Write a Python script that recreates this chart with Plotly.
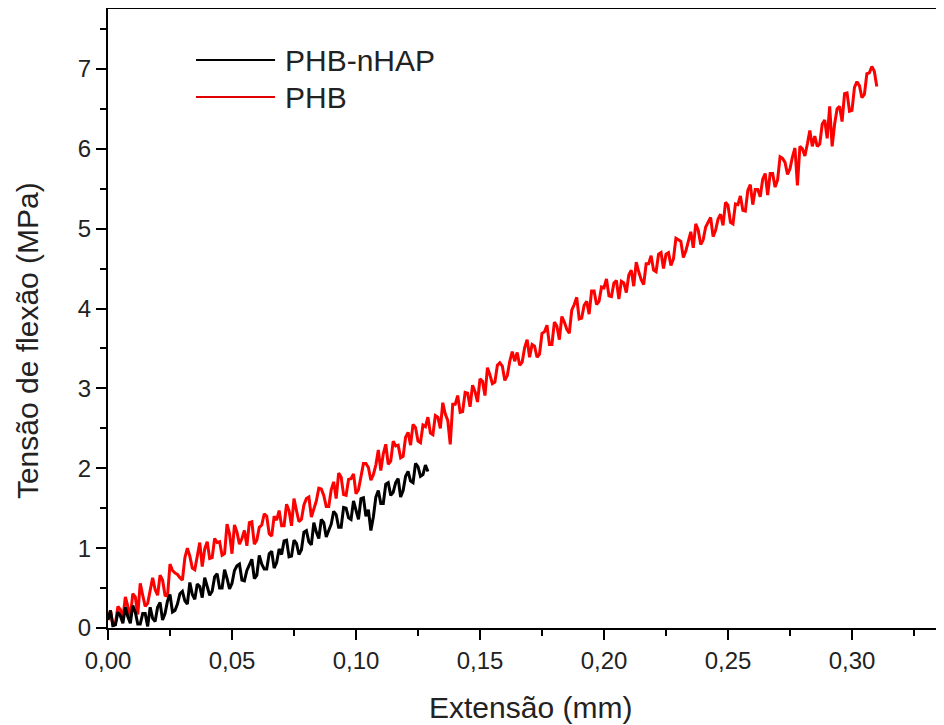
import plotly.graph_objects as go

# PHB (red) series: extension (mm)
phb_x = [0.000, 0.001, 0.002, 0.003, 0.004, 0.005, 0.006, 0.007, 0.008, 0.009,
         0.010, 0.011, 0.012, 0.013, 0.014, 0.015, 0.016, 0.017, 0.018, 0.019,
         0.020, 0.021, 0.022, 0.023, 0.024, 0.025, 0.026, 0.027, 0.028, 0.029,
         0.030, 0.031, 0.032, 0.033, 0.034, 0.035, 0.036, 0.037, 0.038, 0.039,
         0.040, 0.041, 0.042, 0.043, 0.044, 0.045, 0.046, 0.047, 0.048, 0.049,
         0.050, 0.051, 0.052, 0.053, 0.054, 0.055, 0.056, 0.057, 0.058, 0.059,
         0.060, 0.061, 0.062, 0.063, 0.064, 0.065, 0.066, 0.067, 0.068, 0.069,
         0.070, 0.071, 0.072, 0.073, 0.074, 0.075, 0.076, 0.077, 0.078, 0.079,
         0.080, 0.081, 0.082, 0.083, 0.084, 0.085, 0.086, 0.087, 0.088, 0.089,
         0.090, 0.091, 0.092, 0.093, 0.094, 0.095, 0.096, 0.097, 0.098, 0.099,
         0.100, 0.101, 0.102, 0.103, 0.104, 0.105, 0.106, 0.107, 0.108, 0.109,
         0.110, 0.111, 0.112, 0.113, 0.114, 0.115, 0.116, 0.117, 0.118, 0.119,
         0.120, 0.121, 0.122, 0.123, 0.124, 0.125, 0.126, 0.127, 0.128, 0.129,
         0.130, 0.131, 0.132, 0.133, 0.134, 0.135, 0.136, 0.137, 0.138, 0.139,
         0.140, 0.141, 0.142, 0.143, 0.144, 0.145, 0.146, 0.147, 0.148, 0.149,
         0.150, 0.151, 0.152, 0.153, 0.154, 0.155, 0.156, 0.157, 0.158, 0.159,
         0.160, 0.161, 0.162, 0.163, 0.164, 0.165, 0.166, 0.167, 0.168, 0.169,
         0.170, 0.171, 0.172, 0.173, 0.174, 0.175, 0.176, 0.177, 0.178, 0.179,
         0.180, 0.181, 0.182, 0.183, 0.184, 0.185, 0.186, 0.187, 0.188, 0.189,
         0.190, 0.191, 0.192, 0.193, 0.194, 0.195, 0.196, 0.197, 0.198, 0.199,
         0.200, 0.201, 0.202, 0.203, 0.204, 0.205, 0.206, 0.207, 0.208, 0.209,
         0.210, 0.211, 0.212, 0.213, 0.214, 0.215, 0.216, 0.217, 0.218, 0.219,
         0.220, 0.221, 0.222, 0.223, 0.224, 0.225, 0.226, 0.227, 0.228, 0.229,
         0.230, 0.231, 0.232, 0.233, 0.234, 0.235, 0.236, 0.237, 0.238, 0.239,
         0.240, 0.241, 0.242, 0.243, 0.244, 0.245, 0.246, 0.247, 0.248, 0.249,
         0.250, 0.251, 0.252, 0.253, 0.254, 0.255, 0.256, 0.257, 0.258, 0.259,
         0.260, 0.261, 0.262, 0.263, 0.264, 0.265, 0.266, 0.267, 0.268, 0.269,
         0.270, 0.271, 0.272, 0.273, 0.274, 0.275, 0.276, 0.277, 0.278, 0.279,
         0.280, 0.281, 0.282, 0.283, 0.284, 0.285, 0.286, 0.287, 0.288, 0.289,
         0.290, 0.291, 0.292, 0.293, 0.294, 0.295, 0.296, 0.297, 0.298, 0.299,
         0.300, 0.301, 0.302, 0.303, 0.304, 0.305, 0.306, 0.307, 0.308, 0.309,
         0.310]
# PHB (red) series: flexural stress (MPa)
phb_y = [0.11, 0.22, 0.02, 0.06, 0.27, 0.23, 0.12, 0.39, 0.27, 0.13,
         0.43, 0.39, 0.17, 0.56, 0.41, 0.27, 0.31, 0.49, 0.63, 0.48,
         0.41, 0.66, 0.60, 0.41, 0.40, 0.80, 0.72, 0.69, 0.67, 0.63,
         0.60, 0.88, 1.00, 0.90, 0.75, 0.73, 0.93, 1.07, 0.77, 0.99,
         1.08, 0.87, 0.88, 1.12, 1.07, 1.08, 0.91, 0.93, 1.30, 1.18,
         0.93, 1.29, 1.20, 1.05, 1.12, 1.22, 1.03, 1.32, 1.33, 1.05,
         1.10, 1.26, 1.29, 1.43, 1.40, 1.18, 1.15, 1.40, 1.35, 1.47,
         1.28, 1.28, 1.55, 1.47, 1.28, 1.62, 1.47, 1.33, 1.36, 1.54,
         1.62, 1.64, 1.39, 1.49, 1.59, 1.75, 1.74, 1.66, 1.52, 1.52,
         1.73, 1.83, 1.62, 1.94, 1.89, 1.67, 1.66, 1.86, 1.87, 1.93,
         1.68, 1.73, 1.91, 2.06, 2.06, 2.01, 1.85, 1.92, 2.04, 2.23,
         1.97, 2.18, 2.30, 2.05, 2.09, 2.34, 2.28, 2.29, 2.13, 2.15,
         2.39, 2.45, 2.29, 2.55, 2.51, 2.34, 2.32, 2.54, 2.52, 2.64,
         2.44, 2.42, 2.66, 2.64, 2.50, 2.82, 2.68, 2.60, 2.30, 2.80,
         2.80, 2.91, 2.70, 2.71, 2.95, 2.94, 2.77, 3.04, 2.96, 2.83,
         3.12, 3.09, 2.91, 3.26, 3.17, 3.06, 3.08, 3.29, 3.32, 3.28,
         3.10, 3.16, 3.34, 3.46, 3.34, 3.45, 3.29, 3.33, 3.51, 3.61,
         3.39, 3.55, 3.53, 3.39, 3.43, 3.69, 3.71, 3.79, 3.55, 3.55,
         3.83, 3.78, 3.61, 3.90, 3.83, 3.74, 3.69, 3.98, 4.05, 4.14,
         3.87, 3.88, 4.04, 4.09, 3.93, 4.22, 4.22, 4.05, 4.09, 4.27,
         4.26, 4.37, 4.16, 4.15, 4.32, 4.35, 4.12, 4.34, 4.32, 4.20,
         4.42, 4.48, 4.28, 4.58, 4.46, 4.36, 4.30, 4.56, 4.56, 4.66,
         4.48, 4.46, 4.68, 4.70, 4.50, 4.68, 4.70, 4.54, 4.62, 4.88,
         4.86, 4.84, 4.64, 4.72, 4.84, 4.96, 4.76, 5.06, 4.98, 4.80,
         4.86, 5.02, 5.08, 5.14, 4.90, 4.98, 5.12, 5.18, 5.04, 5.33,
         5.29, 5.08, 5.06, 5.31, 5.30, 5.41, 5.23, 5.22, 5.48, 5.55,
         5.30, 5.49, 5.49, 5.40, 5.62, 5.69, 5.42, 5.69, 5.69, 5.52,
         5.61, 5.90, 5.88, 5.83, 5.68, 5.75, 5.90, 6.01, 5.54, 6.03,
         6.00, 5.91, 6.06, 6.23, 6.03, 6.16, 6.03, 6.06, 6.31, 6.36,
         6.13, 6.53, 6.03, 6.31, 6.50, 6.53, 6.34, 6.69, 6.70, 6.47,
         6.48, 6.77, 6.84, 6.79, 6.64, 6.68, 6.94, 6.95, 7.03, 6.97,
         6.78]

# PHB-nHAP (black) series
nhap_x = [0.000, 0.001, 0.002, 0.003, 0.004, 0.005, 0.006, 0.007, 0.008, 0.009,
          0.010, 0.011, 0.012, 0.013, 0.014, 0.015, 0.016, 0.017, 0.018, 0.019,
          0.020, 0.021, 0.022, 0.023, 0.024, 0.025, 0.026, 0.027, 0.028, 0.029,
          0.030, 0.031, 0.032, 0.033, 0.034, 0.035, 0.036, 0.037, 0.038, 0.039,
          0.040, 0.041, 0.042, 0.043, 0.044, 0.045, 0.046, 0.047, 0.048, 0.049,
          0.050, 0.051, 0.052, 0.053, 0.054, 0.055, 0.056, 0.057, 0.058, 0.059,
          0.060, 0.061, 0.062, 0.063, 0.064, 0.065, 0.066, 0.067, 0.068, 0.069,
          0.070, 0.071, 0.072, 0.073, 0.074, 0.075, 0.076, 0.077, 0.078, 0.079,
          0.080, 0.081, 0.082, 0.083, 0.084, 0.085, 0.086, 0.087, 0.088, 0.089,
          0.090, 0.091, 0.092, 0.093, 0.094, 0.095, 0.096, 0.097, 0.098, 0.099,
          0.100, 0.101, 0.102, 0.103, 0.104, 0.105, 0.106, 0.107, 0.108, 0.109,
          0.110, 0.111, 0.112, 0.113, 0.114, 0.115, 0.116, 0.117, 0.118, 0.119,
          0.120, 0.121, 0.122, 0.123, 0.124, 0.125, 0.126, 0.127, 0.128, 0.129]
nhap_y = [0.10, 0.22, 0.03, 0.04, 0.20, 0.15, 0.06, 0.26, 0.14, 0.06,
          0.28, 0.20, 0.05, 0.05, 0.18, 0.18, 0.02, 0.26, 0.12, 0.08,
          0.26, 0.32, 0.10, 0.18, 0.34, 0.42, 0.20, 0.22, 0.30, 0.43,
          0.46, 0.34, 0.30, 0.57, 0.42, 0.36, 0.55, 0.52, 0.38, 0.63,
          0.52, 0.41, 0.46, 0.64, 0.68, 0.50, 0.50, 0.73, 0.62, 0.49,
          0.56, 0.72, 0.78, 0.80, 0.60, 0.59, 0.72, 0.78, 0.86, 0.62,
          0.66, 0.91, 0.80, 0.74, 0.74, 0.93, 0.96, 0.75, 0.82, 0.99,
          0.92, 1.09, 1.10, 0.89, 0.90, 1.10, 1.06, 0.92, 0.98, 1.20,
          1.22, 1.08, 1.04, 1.32, 1.20, 1.12, 1.36, 1.32, 1.14, 1.22,
          1.30, 1.46, 1.42, 1.26, 1.26, 1.51, 1.50, 1.38, 1.36, 1.59,
          1.48, 1.36, 1.62, 1.63, 1.40, 1.48, 1.22, 1.39, 1.64, 1.72,
          1.56, 1.56, 1.80, 1.82, 1.66, 1.70, 1.82, 1.87, 1.64, 1.72,
          1.90, 1.96, 1.84, 1.82, 2.06, 2.02, 1.90, 1.92, 2.04, 1.96]

x_tick_vals = [0.00, 0.05, 0.10, 0.15, 0.20, 0.25, 0.30]
x_tick_text = ["0,00", "0,05", "0,10", "0,15", "0,20", "0,25", "0,30"]
y_tick_vals = [0, 1, 2, 3, 4, 5, 6, 7]

FONT = "Liberation Sans, Arial, sans-serif"
TXT = "#222222"

fig = go.Figure()
fig.add_trace(go.Scatter(x=phb_x, y=phb_y, mode="lines", name="PHB",
                         line=dict(color="#ff0000", width=3), showlegend=False))
fig.add_trace(go.Scatter(x=nhap_x, y=nhap_y, mode="lines", name="PHB-nHAP",
                         line=dict(color="#000000", width=3), showlegend=False))

axis_common = dict(showgrid=False, zeroline=False, showline=True, linecolor="#000",
                   linewidth=2, ticks="outside", ticklen=10, tickwidth=2, tickcolor="#000",
                   tickfont=dict(family=FONT, size=24, color=TXT))

fig.update_xaxes(range=[0, 0.3371], tickvals=x_tick_vals, ticktext=x_tick_text,
                 mirror=True,
                 minor=dict(dtick=0.025, tick0=0, ticks="outside", ticklen=6, tickwidth=2, tickcolor="#000"),
                 **axis_common)
fig.update_yaxes(range=[0, 7.75], tickvals=y_tick_vals,
                 minor=dict(dtick=0.5, tick0=0, ticks="outside", ticklen=6, tickwidth=2, tickcolor="#000"),
                 **axis_common)

# legend drawn manually (long sample lines as in the reference)
leg_x0, leg_x1, leg_tx = 0.1053, 0.1998, 0.2093
leg_rows = [("PHB-nHAP", "#000000", 0.9176), ("PHB", "#e00000", 0.8578)]
shapes = []
annotations = []
for label, col, yy in leg_rows:
    shapes.append(dict(type="line", xref="paper", yref="paper", x0=leg_x0, x1=leg_x1,
                       y0=yy, y1=yy, line=dict(color=col, width=2)))
    annotations.append(dict(text=label, xref="paper", yref="paper", x=leg_tx, y=yy,
                            xanchor="left", yanchor="middle", showarrow=False,
                            font=dict(family=FONT, size=30, color=TXT)))

annotations += [
    dict(text="Extensão (mm)", xref="paper", yref="paper", x=0.505, y=-0.129,
         xanchor="center", yanchor="middle", showarrow=False,
         font=dict(family=FONT, size=30, color=TXT)),
    dict(text="Tensão de flexão (MPa)", xref="paper", yref="paper", x=-0.097, y=0.465,
         xanchor="center", yanchor="middle", showarrow=False, textangle=-90,
         font=dict(family=FONT, size=30, color=TXT)),
]

fig.update_layout(
    width=936, height=717,
    margin=dict(l=100, r=0, t=1, b=97),
    plot_bgcolor="white", paper_bgcolor="white",
    showlegend=False,
    shapes=shapes,
    annotations=annotations,
)

fig.write_html("out.html")
